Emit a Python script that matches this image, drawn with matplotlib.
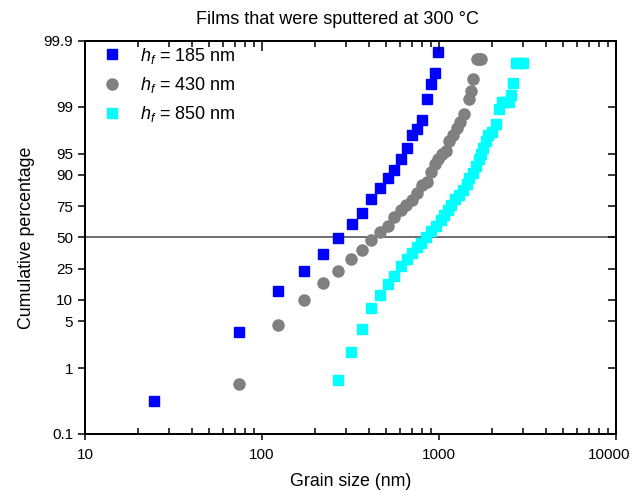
import numpy as np
import matplotlib
matplotlib.use('Agg')
import matplotlib.pyplot as plt
from matplotlib.ticker import LogLocator, NullLocator, NullFormatter
from matplotlib.transforms import ScaledTranslation

plt.rcParams['font.family'] = ['Liberation Sans', 'DejaVu Sans']
plt.rcParams['mathtext.fontset'] = 'custom'
plt.rcParams['mathtext.it'] = 'Liberation Sans:italic'
plt.rcParams['mathtext.rm'] = 'Liberation Sans'

# grain size (nm) and cumulative percentage for each film thickness
size_185 = [24.6, 74.1, 122.7, 172, 220, 270, 321, 366, 414, 462, 513, 559, 608,
            657, 704, 751, 802, 851, 897, 948, 991]
pct_185 = [0.315, 3.5, 13.2, 23.3, 36.0, 49.5, 61.9, 70.0, 79.3, 85.1, 89.0, 91.3,
           94.0, 95.9, 97.3, 97.8, 98.4, 99.22, 99.54, 99.69, 99.85]

size_430 = [74.1, 122.7, 172, 220, 270, 318, 366, 414, 465, 513, 559, 608, 651,
            701, 748, 798, 851, 897, 948, 991, 1036, 1094, 1138, 1204, 1259, 1316,
            1380, 1476, 1517, 1564, 1634, 1680, 1726]
pct_430 = [0.57, 4.47, 10.0, 16.6, 23.8, 31.5, 38.7, 47.4, 54.4, 60.2, 67.2, 72.2,
           75.6, 79.1, 82.4, 86.3, 87.6, 90.9, 93.0, 94.0, 94.9, 95.4, 96.7, 97.3,
           97.9, 98.3, 98.7, 99.24, 99.43, 99.62, 99.81, 99.81, 99.81]

size_850 = [270, 318, 366, 414, 462, 513, 559, 608, 657, 704, 748, 791, 845, 897,
            957, 1022, 1067, 1118, 1168, 1236, 1291, 1361, 1432, 1483, 1564, 1618,
            1675, 1726, 1779, 1836, 1892, 1985, 2090, 2191, 2258, 2360, 2474, 2551,
            2628, 2711, 2850, 2993]
pct_850 = [0.66, 1.77, 3.8, 7.6, 11.6, 16.3, 20.5, 26.9, 32.0, 36.5, 41.3, 45.3,
           50.0, 55.3, 59.6, 64.6, 69.0, 72.4, 76.0, 79.3, 81.7, 84.2, 86.6, 88.9,
           90.7, 92.5, 94.0, 95.0, 95.9, 96.7, 97.3, 97.6, 98.2, 98.9, 99.14, 99.14,
           99.14, 99.34, 99.56, 99.78, 99.78, 99.78]

y_ticks = [0.1, 1, 5, 10, 25, 50, 75, 90, 95, 99, 99.9]
y_labels = ['0.1', '1', '5', '10', '25', '50', '75', '90', '95', '99', '99.9']
x_ticks = [10, 100, 1000, 10000]
x_labels = ['10', '100', '1000', '10000']

fig = plt.figure(figsize=(6.34, 4.92), dpi=100)
ax = fig.add_axes([0.134, 0.118, 0.8376, 0.799])

ax.axhline(0.5, color='#555555', lw=1.2, zorder=1)

ax.plot(size_185, np.array(pct_185) / 100, 's', color='#0000ff', ms=7, mec='#0000ff',
        label=r'$h_f$ = 185 nm', zorder=3)
ax.plot(size_430, np.array(pct_430) / 100, 'o', color='#808080', ms=8, mec='#808080',
        label=r'$h_f$ = 430 nm', zorder=3)
ax.plot(size_850, np.array(pct_850) / 100, 's', color='#00ffff', ms=7, mec='#00ffff',
        label=r'$h_f$ = 850 nm', zorder=3)

ax.set_xscale('log')
ax.set_yscale('logit')
ax.set_xlim(10, 10000)
ax.set_ylim(0.001, 0.999)

ax.set_xticks(x_ticks, x_labels)
ax.xaxis.set_minor_locator(LogLocator(base=10, subs=np.arange(2, 10)))
ax.xaxis.set_minor_formatter(NullFormatter())
ax.set_yticks(np.array(y_ticks) / 100, y_labels)
ax.yaxis.set_minor_locator(NullLocator())

ax.tick_params(axis='x', which='major', direction='out', length=4, width=1.1,
               labelsize=11, pad=6)
ax.tick_params(axis='x', which='minor', direction='in', length=4, width=1.1)
ax.tick_params(axis='y', which='major', direction='out', length=5, width=1.1,
               labelsize=11)

# keep the last x label inside the figure
last = ax.xaxis.get_major_ticks()[-1].label1
last.set_transform(last.get_transform() + ScaledTranslation(-5 / 72, 0, fig.dpi_scale_trans))

for s in ax.spines.values():
    s.set_linewidth(1.3)

# top axis: inward ticks, no labels
tx = ax.twiny()
tx.set_xscale('log')
tx.set_xlim(10, 10000)
tx.set_xticks(x_ticks)
tx.xaxis.set_minor_locator(LogLocator(base=10, subs=np.arange(2, 10)))
tx.xaxis.set_minor_formatter(NullFormatter())
tx.tick_params(axis='x', which='major', direction='in', length=7, width=1.1, labeltop=False)
tx.tick_params(axis='x', which='minor', direction='in', length=4, width=1.1)

# right axis: inward ticks, no labels
ty = ax.twinx()
ty.set_yscale('logit')
ty.set_ylim(0.001, 0.999)
ty.set_yticks(np.array(y_ticks) / 100)
ty.yaxis.set_minor_locator(NullLocator())
ty.tick_params(axis='y', which='major', direction='in', length=6, width=1.1, labelright=False)

for a in (tx, ty):
    for s in a.spines.values():
        s.set_linewidth(1.3)

ax.set_xlabel('Grain size (nm)', fontsize=12.8, labelpad=8)
ax.set_ylabel('Cumulative percentage', fontsize=12.8, labelpad=6)
ax.set_title('Films that were sputtered at 300 °C', fontsize=13, x=0.476, pad=12)

ax.legend(loc='upper left', bbox_to_anchor=(0.030, 0.9875), frameon=False, fontsize=13,
          handletextpad=0.95, labelspacing=0.51, borderaxespad=0, handlelength=1.2,
          borderpad=0)

fig.savefig('out.png', dpi=100)
